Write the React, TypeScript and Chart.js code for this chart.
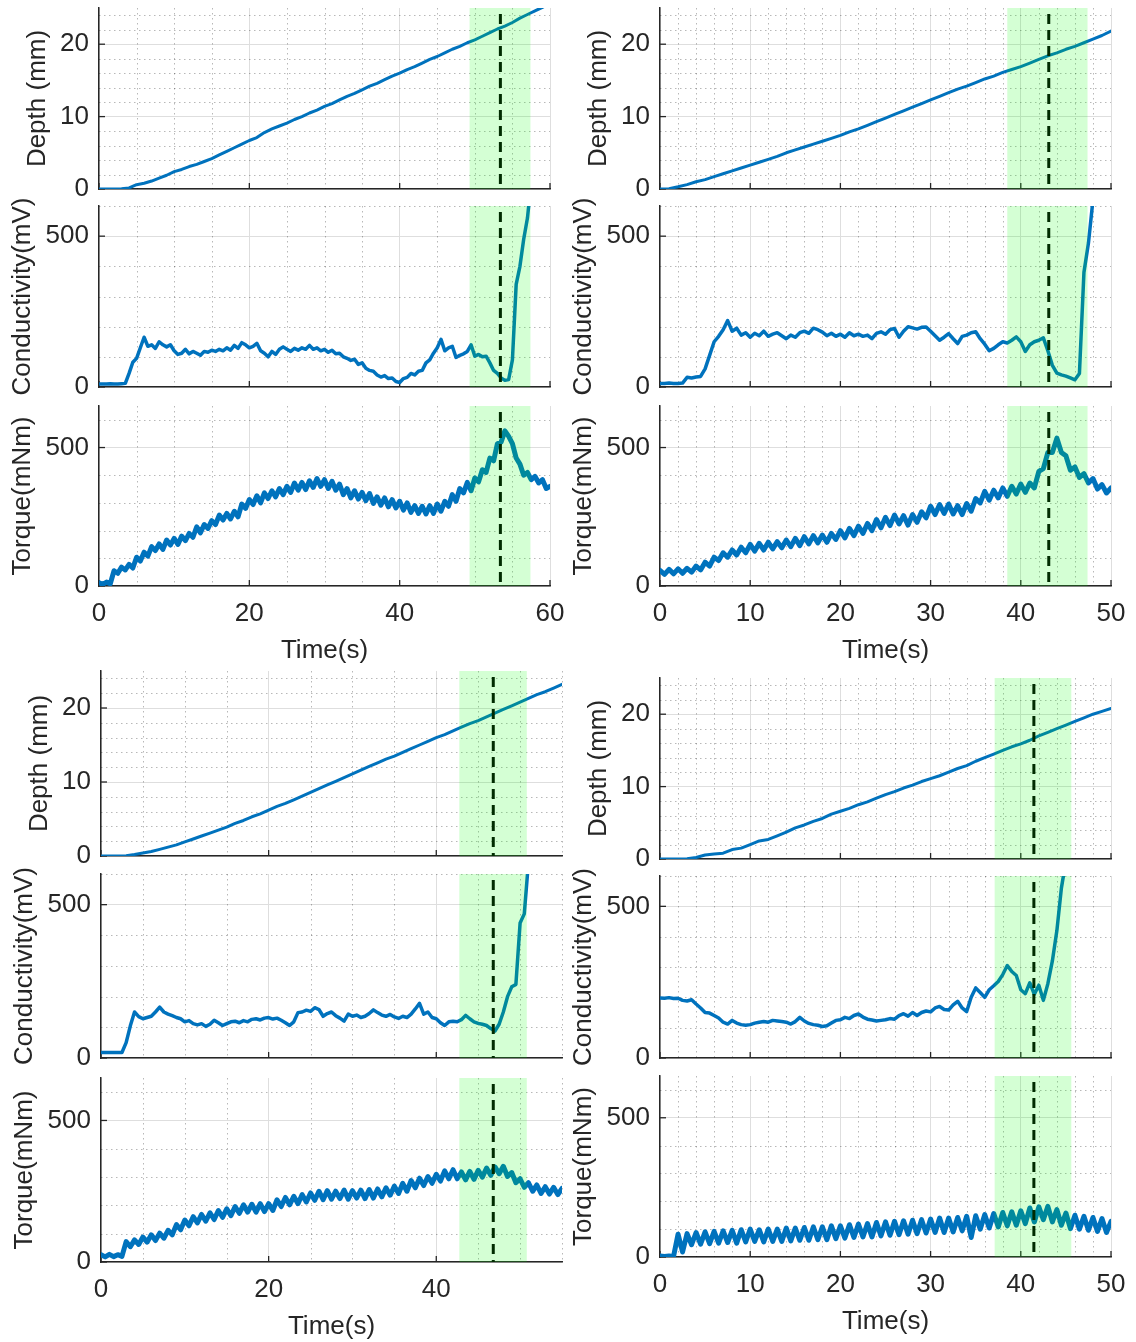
import React, { useEffect, useRef } from 'react';
import { Chart, registerables } from 'chart.js';

Chart.register(...registerables);

// ---------------- DATA ----------------
// Sample steps (seconds)
const DEPTH_STEP = 1;
const SIGNAL_STEP = 0.5;

// Axis ticks
const X_TICKS_60 = [0, 20, 40, 60];
const X_TICKS_55 = [0, 20, 40];
const X_TICKS_50 = [0, 10, 20, 30, 40, 50];
const X_MINOR_5 = [5, 10, 15, 25, 30, 35, 45, 50, 55];
const X_MINOR_2 = [2, 4, 6, 8, 12, 14, 16, 18, 22, 24, 26, 28, 32, 34, 36, 38, 42, 44, 46, 48];
const DEPTH_TICKS = [0, 10, 20];
const DEPTH_MINOR = [2, 4, 6, 8, 12, 14, 16, 18, 22, 24];
const COND_TICKS = [0, 500];
const COND_MINOR = [100, 200, 300, 400, 600];
const TORQUE_TICKS = [0, 500];
const TORQUE_MINOR = [100, 200, 300, 400, 600];

// Highlight windows (s) and event markers (s)
const TL_BAND = [49.3, 57.4];
const TL_MARKER = 53.4;
const TR_BAND = [38.5, 47.4];
const TR_MARKER = 43.1;
const BL_BAND = [42.75, 50.8];
const BL_MARKER = 46.8;
const BR_BAND = [37.1, 45.6];
const BR_MARKER = 41.45;

// Depth (mm), 1 s steps
const TL_DEPTH = [0, 0, 0, 0.05, 0.15, 0.6, 0.8, 1.1, 1.5, 1.9, 2.4, 2.7, 3.1, 3.4, 3.8, 4.2, 4.7, 5.2, 5.7, 6.2, 6.7, 7.1, 7.8, 8.3, 8.7, 9.1, 9.6, 10.0, 10.5, 10.9, 11.4, 11.8, 12.3, 12.8, 13.2, 13.7, 14.2, 14.6, 15.1, 15.6, 16.0, 16.5, 16.9, 17.4, 17.9, 18.3, 18.8, 19.3, 19.7, 20.2, 20.6, 21.1, 21.6, 22.1, 22.5, 23.0, 23.6, 24.1, 24.6, 25.1, 25.6];
const TR_DEPTH = [0, 0.05, 0.3, 0.6, 1.0, 1.3, 1.7, 2.1, 2.5, 2.9, 3.3, 3.7, 4.1, 4.5, 5.0, 5.4, 5.8, 6.2, 6.6, 7.0, 7.4, 7.9, 8.3, 8.8, 9.3, 9.8, 10.3, 10.8, 11.3, 11.8, 12.3, 12.8, 13.3, 13.8, 14.2, 14.7, 15.2, 15.6, 16.1, 16.5, 16.9, 17.4, 17.9, 18.4, 18.8, 19.3, 19.7, 20.2, 20.7, 21.2, 21.8];
const BL_DEPTH = [0, 0, 0, 0.05, 0.2, 0.4, 0.6, 0.9, 1.2, 1.5, 1.9, 2.3, 2.7, 3.1, 3.5, 3.9, 4.4, 4.8, 5.3, 5.7, 6.2, 6.7, 7.1, 7.6, 8.1, 8.6, 9.1, 9.6, 10.1, 10.6, 11.1, 11.6, 12.1, 12.6, 13.1, 13.5, 14.0, 14.5, 15.0, 15.5, 16.0, 16.4, 16.9, 17.4, 17.9, 18.3, 18.8, 19.3, 19.8, 20.3, 20.8, 21.3, 21.8, 22.2, 22.7, 23.2];
const BR_DEPTH = [0, 0, 0, 0.05, 0.2, 0.55, 0.7, 0.8, 1.3, 1.5, 2.0, 2.5, 2.7, 3.2, 3.7, 4.3, 4.7, 5.2, 5.6, 6.2, 6.6, 7.0, 7.5, 7.9, 8.4, 8.9, 9.3, 9.8, 10.2, 10.7, 11.1, 11.5, 12.0, 12.5, 12.9, 13.5, 14.0, 14.5, 15.0, 15.5, 15.9, 16.4, 17.0, 17.5, 18.0, 18.5, 19.0, 19.5, 20.0, 20.4, 20.8];

// Conductivity (mV), 0.5 s steps
const TL_COND = [
  10, 10, 10, 11, 10, 10, 11, 12, 45, 82,
  95, 130, 165, 135, 140, 128, 150, 140, 133, 140,
  120, 108, 112, 125, 110, 118, 112, 105, 118, 115,
  122, 118, 125, 120, 130, 122, 138, 128, 147, 140,
  130, 135, 145, 120, 112, 100, 118, 108, 125, 133,
  125, 118, 128, 122, 130, 125, 138, 125, 130, 120,
  125, 115, 122, 110, 112, 100, 95, 88, 92, 75,
  80, 62, 55, 52, 40, 33, 38, 28, 30, 18,
  15, 28, 32, 45, 40, 52, 55, 80, 90, 112,
  130, 158, 120, 130, 135, 98, 105, 110, 118, 140,
  102, 108, 100, 102, 80, 55, 45, 30, 22, 25,
  90, 340, 400, 490, 560, 680,
];
const TR_COND = [
  12, 12, 13, 12, 12, 13, 32, 30, 33, 35,
  60, 105, 150, 168, 190, 220, 185, 195, 172, 180,
  165, 178, 170, 185, 168, 175, 180, 170, 160, 172,
  165, 180, 185, 178, 195, 190, 182, 170, 178, 168,
  175, 165, 180, 170, 175, 168, 172, 160, 178, 183,
  175, 190, 194, 165, 185, 200, 196, 192, 198, 199,
  185, 170, 155, 165, 177, 160, 144, 168, 172, 180,
  183, 160, 142, 120, 128, 140, 150, 146, 155, 166,
  150, 118, 140, 150, 155, 163, 120, 72, 46, 40,
  36, 30, 24, 45, 380, 477, 620,
];
const BL_COND = [
  18, 18, 18, 18, 18, 18, 50, 105, 150, 135,
  128, 132, 136, 150, 166, 150, 143, 138, 132, 128,
  118, 122, 112, 108, 112, 103, 110, 123, 115, 106,
  112, 118, 120, 115, 122, 118, 126, 128, 124, 130,
  132, 127, 130, 123, 115, 106, 118, 148, 150, 156,
  152, 164, 158, 136, 145, 150, 138, 130, 120, 143,
  136, 140, 132, 136, 145, 157, 148, 140, 136, 142,
  134, 129, 136, 132, 143, 160, 178, 143, 150, 132,
  128, 115, 106, 118, 120, 118, 125, 139, 128, 118,
  113, 110, 106, 96, 88, 110, 150, 200, 232, 240,
  440, 470, 640,
];
const BR_COND = [
  198, 197, 199, 196, 197, 190, 188, 192, 178, 165,
  150, 148, 140, 132, 118, 112, 124, 115, 110, 108,
  110, 115, 118, 120, 118, 124, 122, 120, 118, 112,
  120, 134, 122, 114, 110, 108, 104, 106, 115, 124,
  126, 134, 130, 140, 145, 135, 128, 125, 122, 124,
  126, 130, 128, 140, 146, 138, 150, 140, 150, 155,
  152, 165, 170, 160, 158, 175, 187, 165, 153, 200,
  231, 216, 200, 225, 238, 252, 275, 305, 285, 272,
  225, 212, 248, 210, 240, 190, 245, 320, 420, 560,
  650,
];

// Torque (mNm), 0.5 s steps
const TL_TORQUE = [
  12, 6, 14, 8, 55, 46, 68, 58, 78, 65,
  104, 90, 122, 108, 142, 128, 152, 132, 166, 148,
  172, 150, 180, 164, 190, 176, 214, 192, 222, 208,
  236, 222, 256, 238, 262, 242, 270, 250, 296, 280,
  312, 294, 326, 300, 336, 316, 344, 322, 352, 330,
  360, 338, 372, 346, 374, 348, 380, 356, 388, 360,
  384, 352, 378, 346, 368, 330, 352, 318, 344, 314,
  338, 308, 334, 298, 322, 292, 318, 286, 312, 282,
  306, 274, 300, 266, 290, 262, 288, 260, 290, 262,
  296, 270, 306, 288, 330, 306, 352, 336, 374, 344,
  390, 376, 420, 410, 462, 452, 514, 520, 560, 540,
  514, 462, 440, 400, 410, 384, 396, 372, 384, 352,
  360,
];
const TR_TORQUE = [
  56, 42, 60, 44, 62, 46, 64, 50, 72, 58,
  86, 72, 104, 92, 120, 104, 130, 112, 140, 120,
  150, 126, 154, 130, 158, 134, 160, 138, 166, 142,
  172, 146, 178, 152, 182, 156, 184, 158, 190, 168,
  200, 174, 208, 182, 216, 190, 226, 200, 240, 210,
  248, 218, 256, 224, 254, 220, 258, 230, 268, 246,
  288, 258, 294, 262, 296, 260, 290, 258, 298, 270,
  316, 300, 342, 310, 346, 318, 354, 324, 360, 332,
  368, 338, 372, 354, 414, 424, 482, 482, 534, 482,
  470, 418, 430, 392, 406, 372, 388, 350, 366, 336,
  354,
];
const BL_TORQUE = [
  26, 18, 27, 19, 26, 20, 72, 54, 78, 62,
  88, 70, 96, 76, 102, 84, 112, 96, 132, 114,
  148, 128, 160, 138, 168, 144, 174, 150, 182, 158,
  188, 164, 196, 172, 202, 176, 204, 176, 206, 178,
  206, 182, 220, 196, 228, 202, 232, 206, 238, 212,
  244, 218, 250, 220, 252, 222, 250, 224, 254, 222,
  252, 226, 254, 224, 256, 226, 258, 230, 262, 236,
  268, 242, 278, 250, 288, 262, 296, 270, 302, 278,
  310, 286, 322, 294, 326, 294, 318, 290, 320, 292,
  324, 300, 332, 306, 336, 312, 338, 302, 316, 280,
  294, 264, 280, 250, 272, 242, 266, 240, 264, 238,
  260,
];
const BR_TORQUE = [
  4, 2, 4, 2, 82, 18, 84, 44, 88, 46,
  90, 48, 92, 50, 94, 52, 96, 50, 98, 54,
  100, 56, 98, 54, 100, 56, 100, 56, 104, 58,
  104, 60, 106, 60, 108, 62, 108, 62, 112, 66,
  112, 68, 116, 70, 118, 72, 120, 72, 124, 76,
  126, 78, 128, 80, 130, 82, 132, 84, 134, 86,
  136, 88, 140, 88, 140, 90, 142, 94, 146, 70,
  148, 100, 152, 104, 156, 108, 160, 112, 162, 114,
  166, 120, 176, 126, 180, 134, 182, 126, 170, 114,
  158, 102, 150, 100, 146, 96, 142, 92, 138, 88,
  128,
];

// ---------------- STYLE / LAYOUT ----------------
const BLUE = '#0072BD';
const TEXT = '#262626';
const AXIS = '#262626';
const GRID = 'rgb(222,222,222)';
const MINOR_GRID = 'rgba(0,0,0,0.28)';
const BAND_FILL = 'rgba(0,255,0,0.17)';
const FONT_FAMILY = "'Liberation Sans', Arial, Helvetica, sans-serif";
const FONT_SIZE = 26;
const Y_AXIS_W = 100;
const PAD = 30;
const X_AXIS_H = 80;

type RowKind = {
  title: string;
  titlePad: number;
  yMax: number;
  yTicks: number[];
  yMinor: number[];
  step: number;
  lineWidth: number;
};

const ROW_KINDS: RowKind[] = [
  { title: 'Depth (mm)', titlePad: 23, yMax: 25, yTicks: DEPTH_TICKS, yMinor: DEPTH_MINOR, step: DEPTH_STEP, lineWidth: 3 },
  { title: 'Conductivity(mV)', titlePad: 8, yMax: 600, yTicks: COND_TICKS, yMinor: COND_MINOR, step: SIGNAL_STEP, lineWidth: 3.5 },
  { title: 'Torque(mNm)', titlePad: 8, yMax: 650, yTicks: TORQUE_TICKS, yMinor: TORQUE_MINOR, step: SIGNAL_STEP, lineWidth: 5 },
];

type Panel = {
  id: string;
  left: number;
  right: number;
  rows: { top: number; bottom: number }[];
  xMax: number;
  xTicks: number[];
  xMinor: number[];
  band: number[];
  marker: number;
  series: number[][];
};

const PANELS: Panel[] = [
  {
    id: 'tl', left: 99, right: 550,
    rows: [{ top: 8, bottom: 189 }, { top: 206, bottom: 387 }, { top: 406, bottom: 586 }],
    xMax: 60, xTicks: X_TICKS_60, xMinor: X_MINOR_5, band: TL_BAND, marker: TL_MARKER,
    series: [TL_DEPTH, TL_COND, TL_TORQUE],
  },
  {
    id: 'tr', left: 660, right: 1111,
    rows: [{ top: 8, bottom: 189 }, { top: 206, bottom: 387 }, { top: 406, bottom: 586 }],
    xMax: 50, xTicks: X_TICKS_50, xMinor: X_MINOR_2, band: TR_BAND, marker: TR_MARKER,
    series: [TR_DEPTH, TR_COND, TR_TORQUE],
  },
  {
    id: 'bl', left: 101, right: 562,
    rows: [{ top: 671, bottom: 856 }, { top: 874, bottom: 1058 }, { top: 1078, bottom: 1262 }],
    xMax: 55, xTicks: X_TICKS_55, xMinor: X_MINOR_5, band: BL_BAND, marker: BL_MARKER,
    series: [BL_DEPTH, BL_COND, BL_TORQUE],
  },
  {
    id: 'br', left: 660, right: 1111,
    rows: [{ top: 678, bottom: 859 }, { top: 876, bottom: 1058 }, { top: 1076, bottom: 1257 }],
    xMax: 50, xTicks: X_TICKS_50, xMinor: X_MINOR_2, band: BR_BAND, marker: BR_MARKER,
    series: [BR_DEPTH, BR_COND, BR_TORQUE],
  },
];

const overlayPlugin = {
  id: 'overlay',
  beforeDatasetsDraw(chart: any, _args: any, o: any) {
    const { ctx, chartArea: a } = chart;
    const x = chart.scales.x;
    const y = chart.scales.y;
    ctx.save();
    ctx.strokeStyle = MINOR_GRID;
    ctx.lineWidth = 1;
    ctx.setLineDash([1.5, 3.5]);
    for (const v of o.xMinor) {
      if (v > o.xMax) continue;
      const px = Math.round(x.getPixelForValue(v)) + 0.5;
      ctx.beginPath();
      ctx.moveTo(px, a.top);
      ctx.lineTo(px, a.bottom);
      ctx.stroke();
    }
    for (const v of o.yMinor) {
      const py = Math.round(y.getPixelForValue(v)) + 0.5;
      ctx.beginPath();
      ctx.moveTo(a.left, py);
      ctx.lineTo(a.right, py);
      ctx.stroke();
    }
    ctx.setLineDash([]);
    ctx.strokeStyle = AXIS;
    ctx.lineWidth = 1.3;
    for (const v of o.xTicks) {
      const px = x.getPixelForValue(v);
      ctx.beginPath();
      ctx.moveTo(px, a.bottom);
      ctx.lineTo(px, a.bottom - 6);
      ctx.stroke();
    }
    for (const v of o.yTicks) {
      const py = y.getPixelForValue(v);
      ctx.beginPath();
      ctx.moveTo(a.left, py);
      ctx.lineTo(a.left + 6, py);
      ctx.stroke();
    }
    ctx.restore();
  },
  afterDatasetsDraw(chart: any, _args: any, o: any) {
    const { ctx, chartArea: a } = chart;
    const x = chart.scales.x;
    ctx.save();
    const mx = x.getPixelForValue(o.marker);
    ctx.strokeStyle = '#000';
    ctx.lineWidth = 3;
    ctx.setLineDash([10, 6]);
    ctx.beginPath();
    ctx.moveTo(mx, a.top + 6);
    ctx.lineTo(mx, a.bottom);
    ctx.stroke();
    ctx.setLineDash([]);
    const x0 = x.getPixelForValue(o.band[0]);
    const x1 = x.getPixelForValue(o.band[1]);
    ctx.fillStyle = BAND_FILL;
    ctx.fillRect(x0, a.top, x1 - x0, a.bottom - a.top);
    ctx.restore();
  },
};

type SubSpec = {
  key: string;
  panel: Panel;
  rowIndex: number;
};

const SUBPLOTS: SubSpec[] = [];
PANELS.forEach((p) => {
  [0, 1, 2].forEach((r) => SUBPLOTS.push({ key: `${p.id}-${r}`, panel: p, rowIndex: r }));
});

const SubPlot: React.FC<{ spec: SubSpec }> = ({ spec }) => {
  const ref = useRef<HTMLCanvasElement | null>(null);
  const { panel, rowIndex } = spec;
  const kind = ROW_KINDS[rowIndex];
  const row = panel.rows[rowIndex];
  const isBottom = rowIndex === 2;
  const cLeft = panel.left - Y_AXIS_W;
  const cTop = row.top - PAD;
  const cWidth = panel.right - panel.left + Y_AXIS_W + PAD;
  const cHeight = row.bottom - row.top + PAD + (isBottom ? X_AXIS_H : PAD);

  useEffect(() => {
    if (!ref.current) return;
    const values = panel.series[rowIndex];
    const points = values.map((v, i) => ({ x: i * kind.step, y: v }));
    const font = { family: FONT_FAMILY, size: FONT_SIZE };
    const chart = new Chart(ref.current, {
      type: 'line',
      data: {
        datasets: [
          {
            data: points,
            borderColor: BLUE,
            borderWidth: kind.lineWidth,
            pointRadius: 0,
            tension: 0,
            fill: false,
            borderJoinStyle: 'round',
            borderCapStyle: 'round',
          } as any,
        ],
      },
      options: {
        animation: false,
        responsive: false,
        devicePixelRatio: 1,
        events: [],
        layout: { padding: { left: 0, top: PAD, right: PAD, bottom: isBottom ? 0 : PAD } },
        plugins: {
          legend: { display: false },
          tooltip: { enabled: false },
          overlay: {
            xMinor: panel.xMinor,
            yMinor: kind.yMinor,
            xTicks: panel.xTicks,
            yTicks: kind.yTicks,
            xMax: panel.xMax,
            band: panel.band,
            marker: panel.marker,
          },
        } as any,
        scales: {
          x: {
            type: 'linear',
            min: 0,
            max: panel.xMax,
            afterBuildTicks: (s: any) => {
              s.ticks = panel.xTicks.map((v) => ({ value: v }));
            },
            afterFit: (s: any) => {
              s.height = isBottom ? X_AXIS_H : 0;
            },
            grid: { color: GRID, lineWidth: 1, drawTicks: false },
            border: { display: true, color: AXIS, width: 1.5 },
            ticks: {
              display: isBottom,
              padding: 12,
              color: TEXT,
              font,
              maxRotation: 0,
              autoSkip: false,
            },
            title: {
              display: isBottom,
              text: 'Time(s)',
              color: TEXT,
              font,
              padding: { top: 0, bottom: 0 },
            },
          },
          y: {
            type: 'linear',
            min: 0,
            max: kind.yMax,
            afterBuildTicks: (s: any) => {
              s.ticks = kind.yTicks.map((v) => ({ value: v }));
            },
            afterFit: (s: any) => {
              s.width = Y_AXIS_W;
            },
            grid: { color: GRID, lineWidth: 1, drawTicks: false },
            border: { display: true, color: AXIS, width: 1.5 },
            ticks: { padding: 10, color: TEXT, font, autoSkip: false },
            title: {
              display: true,
              text: kind.title,
              color: TEXT,
              font,
              padding: { top: kind.titlePad, bottom: 0 },
            },
          },
        },
      } as any,
      plugins: [overlayPlugin as any],
    });
    return () => chart.destroy();
  }, []);

  return (
    <canvas
      ref={ref}
      width={cWidth}
      height={cHeight}
      style={{ position: 'absolute', left: cLeft, top: cTop, width: cWidth, height: cHeight }}
    />
  );
};

export default function App() {
  return (
    <div
      style={{
        position: 'absolute',
        left: 0,
        top: 0,
        width: 1136,
        height: 1342,
        overflow: 'hidden',
        background: '#ffffff',
      }}
    >
      {SUBPLOTS.map((s) => (
        <SubPlot key={s.key} spec={s} />
      ))}
    </div>
  );
}
